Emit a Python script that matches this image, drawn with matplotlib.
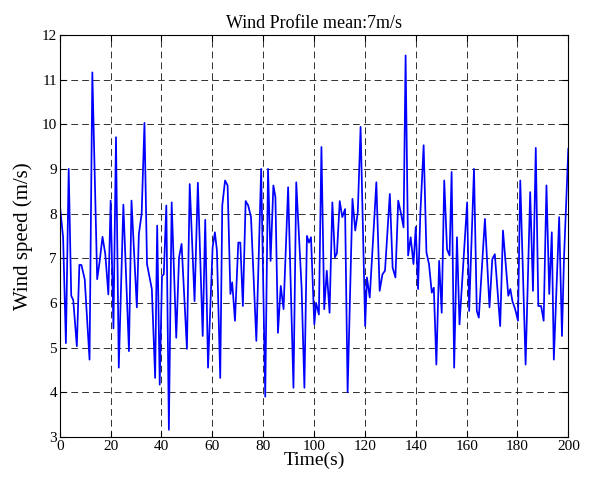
import matplotlib
matplotlib.use("Agg")
import matplotlib.pyplot as plt

# Vertices (time in s, wind speed in m/s)
time_s = [0, 1.3, 2.4, 3.5, 4.5, 5.3, 6.7, 7.7, 8.5, 9.8, 11.7, 12.8, 14.7, 15.7, 16.8,
          17.9, 19.1, 20.0, 21.1, 22.1, 23.2, 25.0, 27.2, 28.2, 30.3, 31.1, 32.2, 33.3,
          34.3, 36.2, 37.5, 38.3, 39.3, 40.2, 40.9, 41.9, 42.9, 44.0, 45.8, 46.9, 47.9,
          50.0, 51.1, 53.0, 54.3, 56.2, 57.2, 58.3, 60.1, 61.0, 61.8, 63.1, 63.9, 65.0,
          66.0, 67.1, 67.8, 68.9, 70.2, 71.0, 72.0, 73.1, 74.1, 75.2, 77.3, 79.2, 80.8,
          81.9, 82.9, 84.0, 84.8, 85.8, 86.9, 88.0, 89.8, 91.9, 93.0, 95.1, 96.2, 97.2,
          98.0, 98.8, 100.1, 100.8, 101.9, 102.9, 104.0, 105.0, 106.1, 107.2, 108.2,
          109.0, 110.1, 111.1, 112.2, 113.2, 115.1, 116.2, 117.2, 118.3, 120.1, 120.8,
          121.9, 124.5, 125.8, 126.9, 127.9, 129.8, 130.9, 132.0, 133.1, 134.2, 135.2,
          136.0, 137.0, 138.0, 139.1, 140.0, 140.9, 141.8, 143.1, 144.2, 145.2, 146.3,
          147.1, 148.1, 149.2, 150.2, 151.2, 152.3, 153.3, 154.1, 155.1, 156.2, 157.2,
          160.2, 161.0, 162.9, 164.0, 164.8, 167.2, 169.0, 170.1, 171.1, 173.2, 174.3,
          176.4, 177.2, 178.0, 179.1, 180.2, 181.1, 183.2, 185.0, 186.1, 187.2, 188.2,
          189.3, 190.3, 191.4, 192.5, 193.5, 194.3, 196.4, 197.5, 198.3, 200.0]

wind_speed = [8.2, 7.47, 5.1, 9.0, 6.16, 6.06, 5.03, 6.85, 6.85, 6.53, 4.73, 11.16, 6.53,
              6.94, 7.48, 7.09, 6.19, 8.29, 5.43, 9.71, 4.55, 8.2, 4.92, 8.29, 5.9, 7.54,
              8.0, 10.03, 6.87, 6.31, 4.32, 7.73, 4.17, 6.6, 6.64, 8.18, 3.16, 8.25, 5.22,
              7.02, 7.32, 4.97, 8.66, 6.04, 8.69, 5.26, 7.86, 4.55, 7.24, 7.58, 7.17,
              4.32, 8.18, 8.74, 8.63, 6.2, 6.46, 5.6, 7.35, 7.35, 5.93, 8.28, 8.18, 7.92,
              5.15, 9.0, 3.9, 9.0, 6.94, 8.63, 8.37, 5.33, 6.38, 5.86, 8.59, 4.1, 8.7,
              6.34, 4.1, 7.5, 7.35, 7.47, 5.52, 6.0, 5.74, 9.49, 5.86, 6.72, 5.78, 8.25,
              7.02, 7.11, 8.28, 7.92, 8.1, 4.0, 8.33, 7.62, 8.03, 9.94, 5.48, 6.57, 6.12,
              8.7, 6.27, 6.64, 6.72, 8.44, 6.79, 6.57, 8.29, 8.0, 7.69, 11.54, 7.06, 7.47,
              6.87, 7.7, 6.31, 8.0, 9.53, 7.13, 6.87, 6.23, 6.34, 4.62, 6.94, 5.78, 8.74,
              7.2, 7.06, 8.93, 4.55, 7.47, 5.52, 8.25, 5.82, 9.0, 5.82, 5.67, 7.88, 5.9,
              6.98, 7.09, 5.48, 7.62, 6.16, 6.31, 6.04, 5.86, 5.6, 8.74, 4.62, 8.48, 6.27,
              9.47, 5.93, 5.93, 5.6, 8.63, 6.2, 7.58, 4.73, 7.92, 5.26, 7.0, 9.45]

x_ticks = [0, 20, 40, 60, 80, 100, 120, 140, 160, 180, 200]
y_ticks = [3, 4, 5, 6, 7, 8, 9, 10, 11, 12]

plt.rcParams['font.family'] = ['Liberation Serif', 'DejaVu Serif']

fig = plt.figure(figsize=(5.92, 4.78), dpi=100)
ax = fig.add_axes([0.101, 0.086, 0.859, 0.841])
ax.plot(time_s, wind_speed, color='#0000ff', linewidth=1.25)

ax.set_xlim(0, 200)
ax.set_ylim(3, 12)
ax.set_xticks(x_ticks)
ax.set_yticks(y_ticks)
ax.grid(True, color='#222222', linestyle=(0, (7.5, 4.5)), linewidth=0.65)
ax.tick_params(direction='in', top=True, right=True, labelsize=11, length=4, width=0.8, pad=2)
for s in ax.spines.values():
    s.set_linewidth(0.8)

ax.set_title('Wind Profile mean:7m/s', fontsize=13, pad=5)
ax.set_xlabel('Time(s)', fontsize=14, labelpad=-1)
ax.set_ylabel('Wind speed (m/s)', fontsize=15, labelpad=6)

fig.savefig('out.png', dpi=100)
